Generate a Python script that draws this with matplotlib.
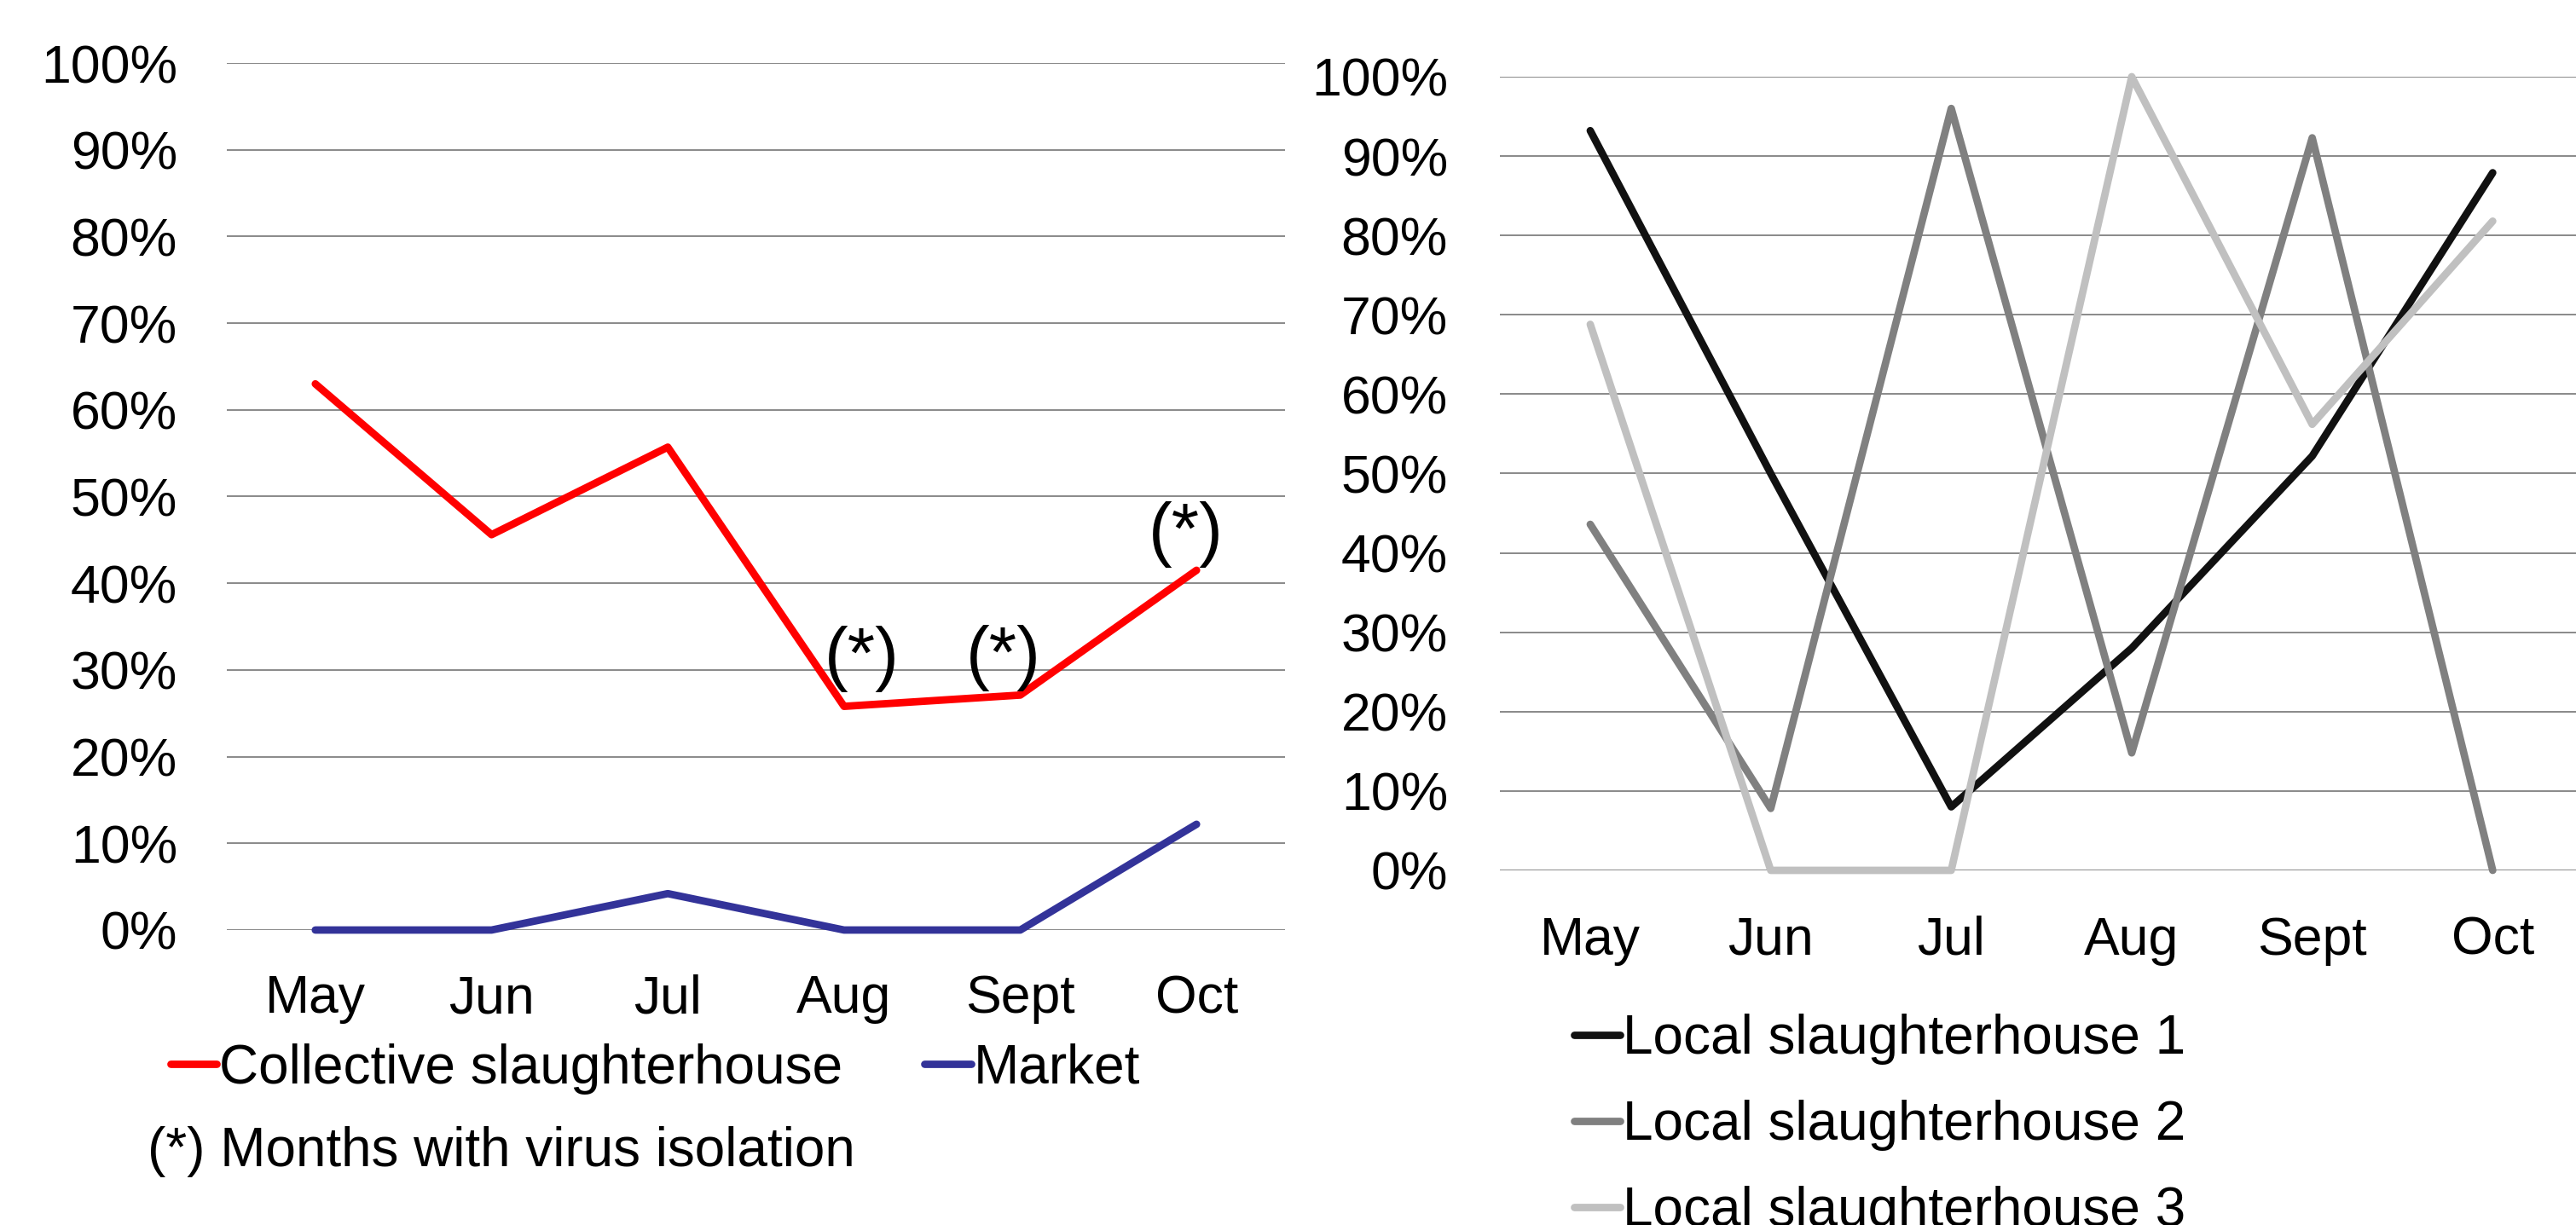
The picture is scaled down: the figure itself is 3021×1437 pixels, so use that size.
import matplotlib.pyplot as plt
from matplotlib.ticker import PercentFormatter

plt.rcParams['font.family'] = ['Liberation Sans', 'DejaVu Sans']

months = ["May", "Jun", "Jul", "Aug", "Sept", "Oct"]

# percentage of positive samples per month
collective = [63.0, 45.6, 55.7, 25.8, 27.1, 41.5]
market = [0.0, 0.0, 4.2, 0.0, 0.0, 12.2]
isolated = ["Aug", "Sept", "Oct"]

local1 = [93.2, 50.0, 8.0, 28.0, 52.2, 87.9]
local2 = [43.6, 7.8, 96.0, 14.8, 92.3, 0.0]
local3 = [68.8, 0.0, 0.0, 100.0, 56.2, 81.8]

FS = 45
LEG_FS = 46
GRID = '#898989'

fig = plt.figure(figsize=(30.21, 14.37), dpi=100)
ax1 = fig.add_axes([0.0882, 0.2408, 0.4105, 0.7077])
ax2 = fig.add_axes([0.5823, 0.2895, 0.4204, 0.6479])

x = range(len(months))


def style(ax, ypad, xpad):
    ax.set_xlim(-0.5, len(months) - 0.5)
    ax.set_ylim(0, 100)
    ax.set_yticks(range(0, 101, 10))
    ax.yaxis.set_major_formatter(PercentFormatter(xmax=100, decimals=0))
    ax.set_xticks(list(x))
    ax.set_xticklabels(months)
    ax.yaxis.grid(True, color=GRID, lw=1.4)
    ax.set_axisbelow(True)
    for s in ax.spines.values():
        s.set_visible(False)
    ax.tick_params(axis='both', length=0, labelsize=FS)
    ax.tick_params(axis='y', pad=ypad)
    ax.tick_params(axis='x', pad=xpad)


style(ax1, 42, 37)
style(ax2, 44, 38)

line_kw = dict(lw=6.3, solid_capstyle='round', solid_joinstyle='round', clip_on=False)

l_col, = ax1.plot(x, collective, color='#ff0000', label="Collective slaughterhouse", **line_kw)
l_mkt, = ax1.plot(x, market, color='#333399', label="Market", **line_kw)

# (*) marks above months where the virus was isolated
offsets = {"Aug": (15, 12), "Sept": (-14, 3), "Oct": (-9, 2)}
for m in isolated:
    i = months.index(m)
    ax1.annotate("(*)", (i, collective[i]), xytext=offsets[m], textcoords='offset points',
                 ha='center', va='bottom', fontsize=60)

ax1.legend(loc='center left', bbox_to_anchor=(0.0662, 0.1275), bbox_transform=fig.transFigure,
           ncol=2, frameon=False, fontsize=LEG_FS, handlelength=0.85, handletextpad=0.05,
           columnspacing=1.5, borderpad=0, borderaxespad=0)
fig.text(0.0573, 0.060, "(*) Months with virus isolation", fontsize=LEG_FS, va='center', ha='left')

ax2.plot(x, local1, color='#111111', label="Local slaughterhouse 1", **line_kw)
ax2.plot(x, local2, color='#808080', label="Local slaughterhouse 2", **line_kw)
ax2.plot(x, local3, color='#c0c0c0', label="Local slaughterhouse 3", **line_kw)

ax2.legend(loc='center left', bbox_to_anchor=(0.611, 0.0814), bbox_transform=fig.transFigure,
           ncol=1, frameon=False, fontsize=LEG_FS, handlelength=0.85, handletextpad=0.05,
           labelspacing=0.64, borderpad=0, borderaxespad=0)

fig.savefig("out.png", dpi=100)
